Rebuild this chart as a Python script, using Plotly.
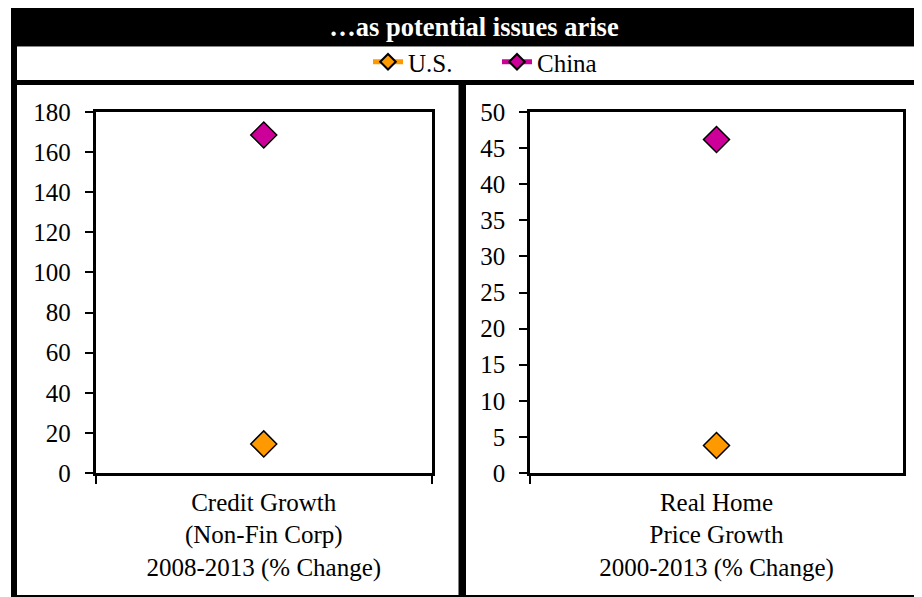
import plotly.graph_objects as go

# ---- data ----
categories_left = ["Credit Growth<br>(Non-Fin Corp)<br>2008-2013 (% Change)"]
categories_right = ["Real Home<br>Price Growth<br>2000-2013 (% Change)"]
series_names = ["U.S.", "China"]
credit_growth = [14.5, 168.5]      # U.S., China
home_price_growth = [3.8, 46.2]    # U.S., China
left_ticks = [0, 20, 40, 60, 80, 100, 120, 140, 160, 180]
right_ticks = [0, 5, 10, 15, 20, 25, 30, 35, 40, 45, 50]
title_text = "…as potential issues arise"

colors = ["#FF9900", "#CC0099"]
W, H = 922, 597
OFF = 8  # page body margin
FONT = "Liberation Serif"
FS = 25


def px(x):
    return (x - OFF) / W


def py(y):
    return 1 - (y - OFF) / H


fig = go.Figure()
for i, name in enumerate(series_names):
    common = dict(
        mode="lines+markers",
        name=name,
        legendgroup=name,
        line=dict(color=colors[i], width=4),
        marker=dict(symbol="diamond", size=20, color=colors[i],
                    line=dict(color="black", width=1.5)),
        hoverinfo="y+name",
    )
    fig.add_trace(go.Scatter(x=categories_left, y=[credit_growth[i]],
                             xaxis="x", yaxis="y", showlegend=True, **common))
    fig.add_trace(go.Scatter(x=categories_right, y=[home_price_growth[i]],
                             xaxis="x2", yaxis="y2", showlegend=False, **common))

axis_font = dict(family=FONT, size=FS, color="black")
xcommon = dict(type="category", range=[-0.5, 0.5], showline=True, linecolor="black",
               linewidth=2.5, mirror=True, ticks="outside", ticklen=8, tickwidth=2,
               tickcolor="black", tickson="boundaries", showgrid=False, zeroline=False,
               tickangle=0, automargin=False,
               tickfont=axis_font, ticklabelstandoff=5, fixedrange=True)
ycommon = dict(showline=True, linecolor="black", linewidth=2.5, mirror=True,
               ticks="outside", ticklen=8, tickwidth=2, tickcolor="black",
               showgrid=False, zeroline=False, tickfont=axis_font, automargin=False,
               ticklabelstandoff=9, fixedrange=True)

y_dom = [py(473), py(112)]
fig.update_layout(
    width=W, height=H, autosize=False,
    margin=dict(l=0, r=0, t=0, b=0, pad=0, autoexpand=False),
    paper_bgcolor="white", plot_bgcolor="white",
    font=dict(family=FONT, size=FS, color="black"),
    title=dict(text=title_text, x=px(474), xanchor="center", xref="paper",
               y=py(27), yanchor="middle", yref="paper", automargin=False,
               font=dict(family=FONT, size=26.5, color="white", weight="bold")),
    xaxis=dict(domain=[px(95.5), px(432)], anchor="y", **xcommon),
    yaxis=dict(domain=y_dom, anchor="x", range=[0, 180], tickvals=left_ticks, **ycommon),
    xaxis2=dict(domain=[px(530), px(903)], anchor="y2", **xcommon),
    yaxis2=dict(domain=y_dom, anchor="x2", range=[0, 50], tickvals=right_ticks, **ycommon),
    legend=dict(orientation="h", x=px(368), xanchor="left", y=py(62), yanchor="middle",
                bgcolor="rgba(0,0,0,0)", font=dict(family=FONT, size=FS, color="black"),
                itemsizing="constant", traceorder="normal", itemclick=False,
                entrywidth=84, entrywidthmode="pixels",
                itemdoubleclick=False),
    showlegend=True,
)

# frame shapes
def rect(x0, y0, x1, y1, color="black"):
    fig.add_shape(type="rect", xref="paper", yref="paper",
                  x0=px(x0), x1=px(x1), y0=py(y1), y1=py(y0),
                  fillcolor=color, line=dict(width=0), layer="below")

rect(11, 8, 930, 46)        # title bar
rect(11, 46, 930, 47, "#888888")
rect(11, 80, 930, 85)       # band under legend
rect(11, 8, 17, 597)        # left border
rect(458.5, 85, 466, 597)   # divider
rect(11, 595, 930, 597)     # bottom border

fig.write_html("out.html")
